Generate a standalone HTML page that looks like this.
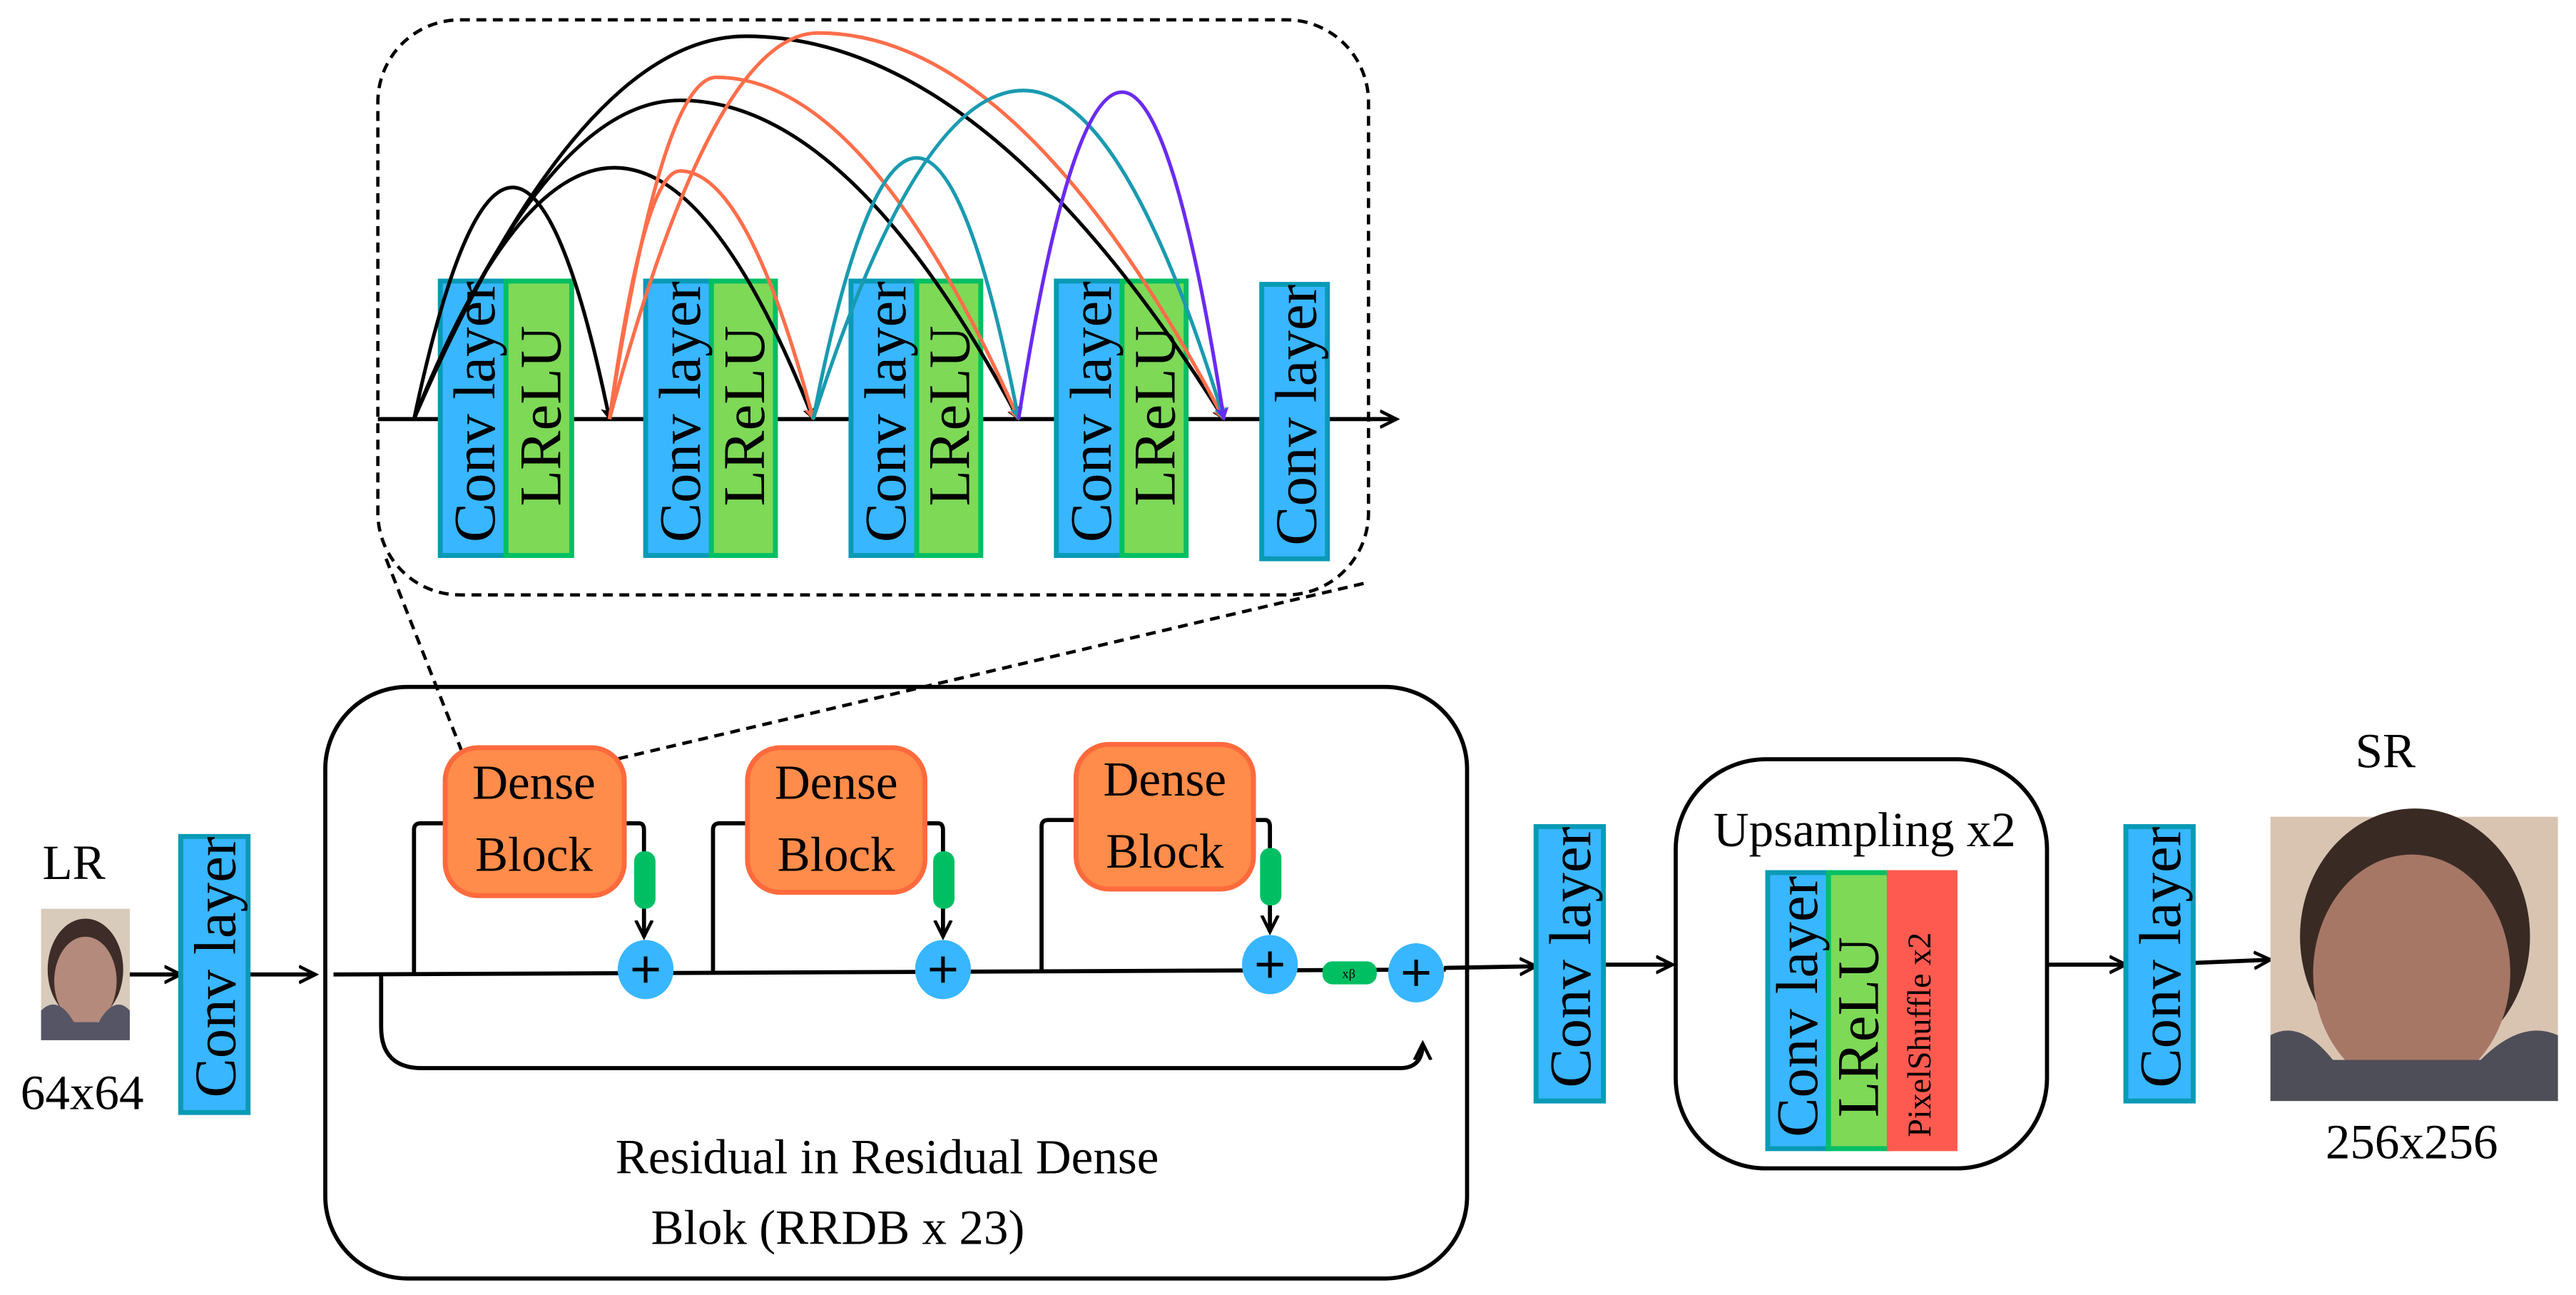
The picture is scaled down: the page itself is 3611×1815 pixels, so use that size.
<!DOCTYPE html>
<html><head><meta charset="utf-8"><style>
html,body{margin:0;padding:0;background:#fff;}
svg{display:block;}
text{font-family:"Liberation Serif",serif;fill:#000;}
</style></head><body>
<svg width="3611" height="1815" viewBox="0 0 1568 788" xmlns="http://www.w3.org/2000/svg">
<defs>
<marker id="ak" markerWidth="8" markerHeight="8" refX="7" refY="4" orient="auto" markerUnits="userSpaceOnUse"><path d="M0,0 L8,4 L0,8 L2,4 z" fill="#000"/></marker>
<marker id="ao" markerWidth="8" markerHeight="8" refX="7" refY="4" orient="auto" markerUnits="userSpaceOnUse"><path d="M0,0 L8,4 L0,8 L2,4 z" fill="#FF6E4A"/></marker>
<marker id="at" markerWidth="8" markerHeight="8" refX="7" refY="4" orient="auto" markerUnits="userSpaceOnUse"><path d="M0,0 L8,4 L0,8 L2,4 z" fill="#1A9AB0"/></marker>
<marker id="ap" markerWidth="8" markerHeight="8" refX="7" refY="4" orient="auto" markerUnits="userSpaceOnUse"><path d="M0,0 L8,4 L0,8 L2,4 z" fill="#6A2BF0"/></marker>
<marker id="big" markerWidth="12" markerHeight="12" refX="10" refY="6" orient="auto" markerUnits="userSpaceOnUse"><path d="M0,1 L10,6 L0,11" fill="none" stroke="#000" stroke-width="2"/></marker>
</defs>

<rect x="230" y="12" width="603" height="350" rx="50" fill="none" stroke="#000" stroke-width="2" stroke-dasharray="6,4"/>
<line x1="230" y1="255" x2="850" y2="255" stroke="#000" stroke-width="2.5" marker-end="url(#big)"/>

<g stroke-width="3">
<rect x="268" y="171" width="40" height="167" fill="#38B6FF" stroke="#0A9AB5"/>
<rect x="308" y="171" width="40" height="167" fill="#7ED957" stroke="#00BF63"/>
<rect x="393" y="171" width="40" height="167" fill="#38B6FF" stroke="#0A9AB5"/>
<rect x="433" y="171" width="39" height="167" fill="#7ED957" stroke="#00BF63"/>
<rect x="518" y="171" width="40" height="167" fill="#38B6FF" stroke="#0A9AB5"/>
<rect x="558" y="171" width="39" height="167" fill="#7ED957" stroke="#00BF63"/>
<rect x="643" y="171" width="40" height="167" fill="#38B6FF" stroke="#0A9AB5"/>
<rect x="683" y="171" width="39" height="167" fill="#7ED957" stroke="#00BF63"/>
<rect x="768" y="173" width="40" height="167" fill="#38B6FF" stroke="#0A9AB5"/>
</g>
<g font-size="36">
<text transform="translate(301,330) rotate(-90)">Conv layer</text>
<text transform="translate(341,308) rotate(-90)">LReLU</text>
<text transform="translate(426,330) rotate(-90)">Conv layer</text>
<text transform="translate(465,308) rotate(-90)">LReLU</text>
<text transform="translate(551,330) rotate(-90)">Conv layer</text>
<text transform="translate(590,308) rotate(-90)">LReLU</text>
<text transform="translate(676,330) rotate(-90)">Conv layer</text>
<text transform="translate(715,308) rotate(-90)">LReLU</text>
<text transform="translate(801,332) rotate(-90)">Conv layer</text>
</g>

<g fill="none" stroke-width="2.2">
<path d="M252,255 Q282,114 312,114 Q342,114 371,255" stroke="#000" marker-end="url(#ak)"/>
<path d="M252,255 Q313,102 374,102 Q435,102 495,255" stroke="#000" marker-end="url(#ak)"/>
<path d="M252,255 Q333,61 414,61 Q517,61 620,255" stroke="#000" marker-end="url(#ak)"/>
<path d="M252,255 Q353,22 454,22 Q600,22 745,255" stroke="#000" marker-end="url(#ak)"/>
<path d="M371,255 Q392,104 414,104 Q455,104 495,255" stroke="#FF6E4A" marker-end="url(#ao)"/>
<path d="M371,255 Q403,47 436,47 Q528,47 620,255" stroke="#FF6E4A" marker-end="url(#ao)"/>
<path d="M371,255 Q434,20 498,20 Q622,20 745,255" stroke="#FF6E4A" marker-end="url(#ao)"/>
<path d="M495,255 Q526,96 558,96 Q589,96 620,255" stroke="#1A9AB0" marker-end="url(#at)"/>
<path d="M495,255 Q559,55 623,55 Q684,55 745,255" stroke="#1A9AB0" marker-end="url(#at)"/>
<path d="M620,255 Q651,56 683,56 Q714,56 745,255" stroke="#6A2BF0" marker-end="url(#ap)"/>
</g>

<line x1="235" y1="340" x2="283" y2="462" stroke="#000" stroke-width="2" stroke-dasharray="6,4"/>
<line x1="830" y1="355" x2="375" y2="462" stroke="#000" stroke-width="2" stroke-dasharray="6,4"/>

<rect x="198" y="418" width="695" height="360" rx="50" fill="none" stroke="#000" stroke-width="2.5"/>
<g fill="none" stroke="#000" stroke-width="2.5">
<line x1="203" y1="593" x2="880" y2="590"/>
<path d="M232,593 L232,625 Q232,650 257,650 L852,650 Q866,650 866,635" marker-end="url(#big)"/>
<path d="M252,592 L252,505 Q252,501 256,501 L272,501"/>
<path d="M378,501 L389,501 Q392,501 392,505 L392,570" marker-end="url(#big)"/>
<path d="M434,592 L434,505 Q434,501 438,501 L456,501"/>
<path d="M562,501 L571,501 Q574,501 574,505 L574,570" marker-end="url(#big)"/>
<path d="M634,590 L634,503 Q634,499 638,499 L656,499"/>
<path d="M762,499 L770,499 Q773,499 773,503 L773,567" marker-end="url(#big)"/>
</g>
<g fill="#FF8C4A" stroke="#FF6A3D" stroke-width="3">
<rect x="271" y="455" width="109" height="90" rx="20"/>
<rect x="455" y="455" width="108" height="88" rx="20"/>
<rect x="655" y="453" width="108" height="88" rx="20"/>
</g>
<g font-size="30" text-anchor="middle">
<text x="325" y="486">Dense</text><text x="325" y="530">Block</text>
<text x="509" y="486">Dense</text><text x="509" y="530">Block</text>
<text x="709" y="484">Dense</text><text x="709" y="528">Block</text>
</g>
<g fill="#00BF63">
<rect x="386" y="518" width="13" height="35" rx="6"/>
<rect x="568" y="518" width="13" height="35" rx="6"/>
<rect x="767" y="516" width="13" height="35" rx="6"/>
<rect x="805" y="585" width="33" height="14" rx="6"/>
</g>
<g font-size="8" text-anchor="middle"><text x="821" y="595">xβ</text></g>
<g fill="#38B6FF">
<ellipse cx="393" cy="590" rx="17" ry="18"/>
<ellipse cx="574" cy="590" rx="17" ry="18"/>
<ellipse cx="773" cy="587" rx="17" ry="18"/>
<ellipse cx="862" cy="592" rx="17" ry="18"/>
</g>
<g stroke="#000" stroke-width="2.2">
<path d="M385,590 h16 M393,582 v16"/>
<path d="M566,590 h16 M574,582 v16"/>
<path d="M765,587 h16 M773,579 v16"/>
<path d="M854,592 h16 M862,584 v16"/>
</g>
<g font-size="30" text-anchor="middle">
<text x="540" y="714">Residual in Residual Dense</text>
<text x="510" y="757">Blok (RRDB x 23)</text>
</g>

<text x="45" y="535" font-size="30" text-anchor="middle">LR</text>
<rect x="25" y="553" width="54" height="80" fill="#d8cbbb"/>
<ellipse cx="52" cy="590" rx="23" ry="31" fill="#3e2c28"/>
<ellipse cx="52" cy="597" rx="19" ry="27" fill="#b48a7c"/>
<path d="M25,633 L25,615 Q35,605 45,622 L60,622 Q70,605 79,615 L79,633 z" fill="#555566"/>
<text x="50" y="675" font-size="30" text-anchor="middle">64x64</text>

<g stroke="#000" stroke-width="2.5" fill="none">
<line x1="79" y1="593" x2="110" y2="593" marker-end="url(#big)"/>
<line x1="151" y1="593" x2="192" y2="593" marker-end="url(#big)"/>
<line x1="879" y1="589" x2="935" y2="588" marker-end="url(#big)"/>
<line x1="976" y1="587" x2="1018" y2="587" marker-end="url(#big)"/>
<line x1="1246" y1="587" x2="1294" y2="587" marker-end="url(#big)"/>
<line x1="1335" y1="586" x2="1382" y2="584" marker-end="url(#big)"/>
</g>

<g stroke-width="3">
<rect x="110" y="509" width="41" height="168" fill="#38B6FF" stroke="#0A9AB5"/>
<rect x="935" y="503" width="41" height="167" fill="#38B6FF" stroke="#0A9AB5"/>
<rect x="1294" y="503" width="41" height="167" fill="#38B6FF" stroke="#0A9AB5"/>
</g>
<g font-size="36">
<text transform="translate(143,668) rotate(-90)">Conv layer</text>
<text transform="translate(968,662) rotate(-90)">Conv layer</text>
<text transform="translate(1327,662) rotate(-90)">Conv layer</text>
</g>

<rect x="1020" y="462" width="226" height="249" rx="55" fill="none" stroke="#000" stroke-width="2.5"/>
<text x="1135" y="515" font-size="30" text-anchor="middle">Upsampling x2</text>
<g stroke-width="3">
<rect x="1076" y="531" width="37" height="168" fill="#38B6FF" stroke="#0A9AB5"/>
<rect x="1113" y="531" width="37" height="168" fill="#7ED957" stroke="#00BF63"/>
<rect x="1150" y="531" width="40" height="168" fill="#FF5A50" stroke="#FF5A50"/>
</g>
<text transform="translate(1106,692) rotate(-90)" font-size="36">Conv layer</text>
<text transform="translate(1143,680) rotate(-90)" font-size="36">LReLU</text>
<text transform="translate(1175,692) rotate(-90)" font-size="20">PixelShuffle x2</text>

<text x="1452" y="467" font-size="30" text-anchor="middle">SR</text>
<rect x="1382" y="497" width="175" height="173" fill="#d9c4b2"/>
<ellipse cx="1470" cy="570" rx="70" ry="78" fill="#3a2a24"/>
<ellipse cx="1468" cy="592" rx="60" ry="72" fill="#a77766"/>
<path d="M1382,670 L1382,630 Q1400,620 1420,645 L1510,645 Q1535,620 1557,630 L1557,670 z" fill="#4e4e58"/>
<text x="1468" y="705" font-size="30" text-anchor="middle">256x256</text>
</svg>
</body></html>
